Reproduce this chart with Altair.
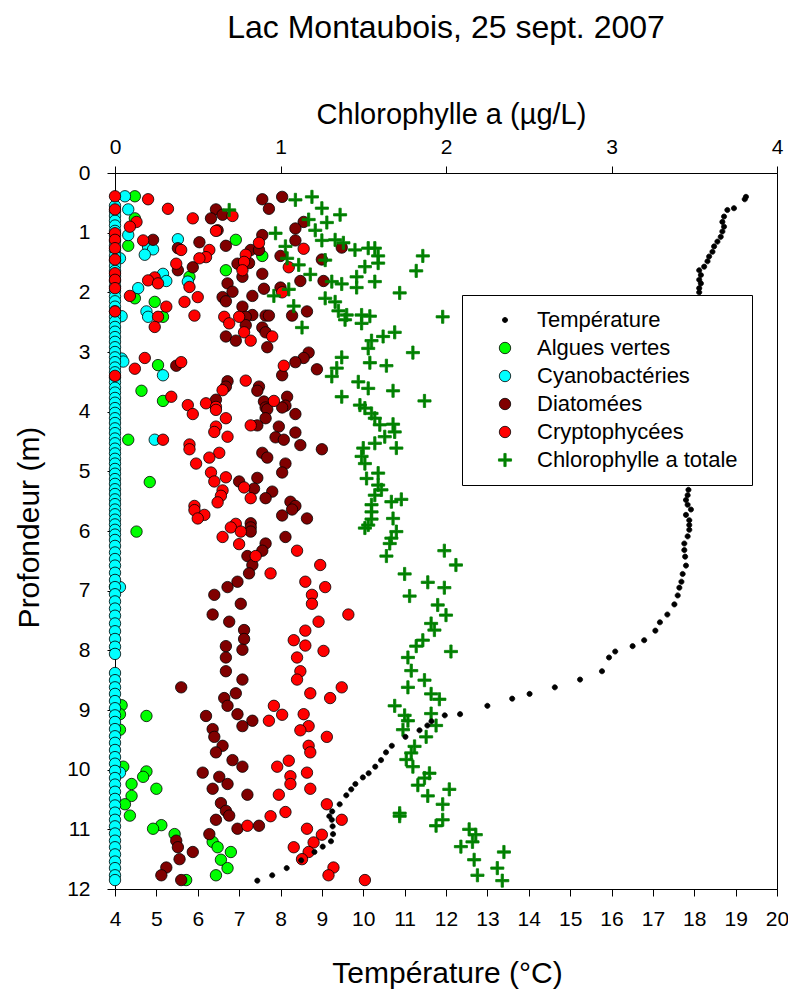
import altair as alt
import pandas as pd

# ---------------- data (depth m, value) ----------------
temp_pts = [
    (0.40, 19.25), (0.44, 19.22), (0.59, 18.96), (0.62, 18.80), (0.73, 18.72), (0.82, 18.68),
    (0.90, 18.72), (0.98, 18.68), (1.07, 18.64), (1.15, 18.56), (1.23, 18.48), (1.32, 18.44),
    (1.40, 18.36), (1.48, 18.32), (1.57, 18.24), (1.63, 18.12), (1.71, 18.16), (1.79, 18.12),
    (1.85, 18.16), (1.93, 18.12), (2.00, 18.12),
    (5.31, 17.86), (5.40, 17.84), (5.48, 17.80), (5.56, 17.84), (5.64, 17.92), (5.73, 17.80),
    (5.82, 17.88), (5.90, 17.88), (5.98, 17.88), (6.09, 17.84), (6.21, 17.76), (6.32, 17.76),
    (6.43, 17.78), (6.58, 17.80), (6.72, 17.72), (6.85, 17.69), (6.95, 17.64), (7.08, 17.60),
    (7.23, 17.52), (7.40, 17.35), (7.53, 17.17), (7.67, 17.06), (7.83, 16.79), (7.93, 16.51),
    (8.02, 16.09), (8.12, 15.94), (8.35, 15.77), (8.49, 15.24), (8.62, 14.63), (8.73, 14.02),
    (8.81, 13.60), (8.93, 13.00), (9.07, 12.34), (9.09, 11.97), (9.19, 11.65), (9.26, 11.55),
    (9.34, 11.36), (9.45, 11.02), (9.60, 10.69), (9.71, 10.55), (9.84, 10.43), (9.95, 10.29),
    (10.06, 10.13), (10.13, 9.99), (10.24, 9.81), (10.33, 9.71), (10.43, 9.59), (10.58, 9.43),
    (10.70, 9.25), (10.78, 9.18), (10.84, 9.24), (10.95, 9.26), (11.08, 9.27), (11.20, 9.22),
    (11.29, 9.02), (11.38, 8.82), (11.52, 8.50), (11.65, 8.15), (11.77, 7.80), (11.86, 7.44),
]

green_pts = [
    (0.39, 0.12), (0.76, 0.12), (1.12, 0.73), (1.22, 0.08), (1.39, 0.89), (1.63, 0.67),
    (1.74, 0.45), (2.10, 0.12), (2.16, 0.24), (2.41, 0.29), (3.22, 0.26), (3.65, 0.16),
    (3.82, 0.29), (4.47, 0.08), (5.18, 0.21), (6.01, 0.13), (6.93, 0.00), (8.92, 0.04),
    (9.07, 0.03), (9.10, 0.19), (9.33, 0.03), (9.95, 0.05), (10.03, 0.19), (10.12, 0.17),
    (10.24, 0.10), (10.32, 0.25), (10.44, 0.10), (10.58, 0.06), (10.77, 0.09), (10.93, 0.28),
    (10.99, 0.23), (11.08, 0.36), (11.21, 0.59), (11.30, 0.62), (11.38, 0.70), (11.51, 0.64),
    (11.65, 0.68), (11.77, 0.61), (11.85, 0.43),
]

cyan_pts = [
    (0.39, 0.06), (0.61, 0.08), (1.04, 0.08), (1.11, 0.38), (1.24, 0.20), (1.28, 0.23),
    (1.37, 0.18), (1.43, 0.03), (1.69, 0.29), (1.81, 0.31), (1.82, 0.44), (1.93, 0.14),
    (2.32, 0.19), (2.41, 0.20), (2.40, 0.04), (3.11, 0.04), (3.16, 0.05), (3.39, 0.29),
    (4.47, 0.24), (6.94, 0.03), (10.05, 0.03),
]
# cyanobacteria readings at 0 µg/L (the column along the left edge)
cyan_zero_depth = [
    0.55, 0.64, 0.72, 0.80, 0.88, 0.97, 1.05, 1.14, 1.22, 1.30, 1.39, 1.47, 1.56, 1.64, 1.73,
    1.81, 1.90, 1.98, 2.07, 2.15, 2.24, 2.32, 2.41, 2.49, 2.58, 2.66, 2.75, 2.83, 2.92, 3.00,
    3.09, 3.17, 3.26, 3.34, 3.43, 3.51, 3.60, 3.68, 3.77, 3.85, 3.94, 4.02, 4.11, 4.19, 4.28,
    4.36, 4.45, 4.53, 4.62, 4.70, 4.79, 4.87, 4.96, 5.04, 5.13, 5.21, 5.30, 5.38, 5.47, 5.55,
    5.64, 5.72, 5.81, 5.89, 5.98, 6.06, 6.15, 6.25, 6.36, 6.47, 6.58, 6.70, 6.82, 6.94, 7.06,
    7.18, 7.30, 7.42, 7.55, 7.68, 7.81, 7.94, 8.06, 8.38, 8.50, 8.62, 8.73, 8.85, 8.97, 9.09,
    9.20, 9.32, 9.44, 9.55, 9.67, 9.79, 9.90, 10.02, 10.14, 10.25, 10.37, 10.49, 10.60, 10.72,
    10.84, 10.95, 11.07, 11.19, 11.30, 11.42, 11.54, 11.65, 11.77, 11.85,
]

diatom_pts = [
    (0.40, 1.01), (0.44, 0.89), (0.60, 0.93), (0.61, 0.61), (0.70, 0.65), (0.76, 0.58),
    (0.82, 1.14), (0.93, 1.09), (0.96, 0.62), (1.04, 0.89), (1.12, 0.23), (1.13, 1.09),
    (1.16, 0.51), (1.22, 0.67), (1.25, 1.37), (1.26, 0.38), (1.29, 0.82), (1.29, 0.87),
    (1.39, 1.00), (1.45, 1.25), (1.51, 0.81), (1.52, 0.74), (1.58, 0.47), (1.63, 0.38),
    (1.69, 0.89), (1.74, 0.77), (1.81, 1.12), (1.81, 1.26), (1.85, 0.68), (1.92, 1.00),
    (1.94, 0.90), (1.99, 0.71), (2.06, 0.83), (2.08, 0.65), (2.15, 0.67), (2.24, 0.77),
    (2.32, 1.16), (2.38, 0.83), (2.39, 0.91), (2.39, 0.93), (2.39, 1.07), (2.41, 0.79),
    (2.55, 0.79), (2.59, 0.89), (2.67, 0.91), (2.74, 0.67), (2.81, 0.73), (2.92, 0.92),
    (3.01, 1.17), (3.10, 1.14), (3.17, 1.09), (3.23, 0.37), (3.29, 1.22), (3.39, 1.01),
    (3.49, 0.68), (3.58, 0.67), (3.58, 0.87), (3.65, 0.86), (3.75, 1.04), (3.80, 0.61),
    (3.83, 0.90), (3.90, 1.03), (3.93, 0.91), (3.93, 1.01), (3.96, 0.92), (4.04, 1.09),
    (4.11, 0.91), (4.23, 0.86), (4.25, 0.99), (4.35, 1.09), (4.43, 0.97), (4.47, 1.02),
    (4.56, 1.12), (4.63, 1.25), (4.69, 0.89), (4.77, 0.92), (4.87, 1.03), (5.02, 1.01),
    (5.11, 0.86), (5.17, 0.75), (5.29, 0.84), (5.34, 0.95), (5.45, 0.91), (5.51, 1.06),
    (5.58, 1.09), (5.64, 1.07), (5.74, 1.01), (5.79, 1.16), (5.87, 0.82), (5.94, 0.82),
    (6.01, 0.82), (6.10, 1.03), (6.21, 0.91), (6.33, 0.89), (6.42, 0.80), (6.57, 0.83),
    (6.71, 0.81), (6.85, 0.74), (6.94, 0.68), (7.07, 0.60), (7.22, 0.76), (7.40, 0.59),
    (7.52, 0.69), (7.66, 0.78), (7.81, 0.78), (7.93, 0.67), (7.99, 0.77), (8.12, 0.67),
    (8.35, 0.67), (8.49, 0.77), (8.62, 0.40), (8.72, 0.73), (8.80, 0.66), (8.93, 0.68),
    (9.07, 0.74), (9.10, 0.55), (9.18, 0.83), (9.27, 0.77), (9.32, 0.59), (9.45, 0.60),
    (9.60, 0.65), (9.71, 0.61), (9.84, 0.71), (9.95, 0.77), (10.05, 0.53), (10.12, 0.63),
    (10.24, 0.68), (10.32, 0.59), (10.42, 0.80), (10.56, 0.64), (10.69, 0.67), (10.77, 0.69),
    (10.84, 0.61), (10.94, 0.87), (10.99, 0.74), (11.08, 0.57), (11.19, 0.37), (11.30, 0.38),
    (11.38, 0.47), (11.50, 0.39), (11.64, 0.31), (11.77, 0.28), (11.85, 0.40),
]

crypto_pts = [
    (0.39, 0.00), (0.44, 0.20), (0.60, 0.32), (0.61, 0.00), (0.72, 0.71), (0.76, 0.47),
    (0.82, 0.13), (0.90, 0.09), (0.97, 0.61), (1.01, 0.00), (1.12, 0.00), (1.13, 0.17),
    (1.17, 0.87), (1.26, 0.00), (1.27, 1.14), (1.29, 0.40), (1.29, 0.57), (1.37, 0.79),
    (1.41, 0.55), (1.43, 0.51), (1.45, 0.00), (1.49, 0.78), (1.52, 0.37), (1.58, 1.05),
    (1.63, 0.77), (1.68, 0.00), (1.75, 0.24), (1.79, 0.00), (1.80, 0.20), (1.85, 0.26),
    (1.91, 0.45), (1.93, 0.00), (2.00, 1.01), (2.06, 0.09), (2.08, 0.50), (2.16, 0.42),
    (2.24, 0.31), (2.32, 0.00), (2.39, 0.48), (2.41, 0.26), (2.41, 0.66), (2.41, 0.75),
    (2.52, 0.69), (2.58, 0.24), (2.67, 0.78), (2.74, 0.95), (2.81, 0.82), (3.10, 0.18),
    (3.17, 0.40), (3.23, 1.02), (3.28, 0.12), (3.40, 0.00), (3.48, 0.79), (3.64, 0.65),
    (3.75, 0.34), (3.82, 0.96), (3.86, 0.55), (3.89, 0.44), (3.92, 0.61), (3.97, 0.61),
    (4.04, 0.47), (4.11, 0.67), (4.23, 0.82), (4.25, 0.61), (4.34, 0.60), (4.42, 0.68),
    (4.47, 0.29), (4.55, 0.45), (4.63, 0.45), (4.69, 0.63), (4.77, 0.57), (4.87, 0.49),
    (5.02, 0.58), (5.10, 0.67), (5.17, 0.60), (5.27, 0.78), (5.32, 0.65), (5.41, 0.64),
    (5.45, 0.82), (5.52, 0.62), (5.58, 0.48), (5.65, 0.48), (5.73, 0.54), (5.79, 0.50),
    (5.88, 0.73), (5.94, 0.70), (6.01, 0.76), (6.10, 0.65), (6.22, 0.75), (6.33, 1.10),
    (6.42, 0.85), (6.57, 1.24), (6.71, 0.94), (6.85, 1.15), (6.94, 1.27), (7.07, 1.19),
    (7.22, 1.19), (7.40, 1.41), (7.52, 1.23), (7.67, 1.15), (7.83, 1.08), (7.92, 1.15),
    (8.01, 1.26), (8.12, 1.10), (8.35, 1.12), (8.49, 1.10), (8.62, 1.37), (8.72, 1.18),
    (8.80, 1.30), (8.93, 0.96), (9.07, 1.14), (9.08, 1.01), (9.18, 0.93), (9.27, 1.17),
    (9.34, 1.12), (9.45, 1.28), (9.60, 1.17), (9.71, 1.18), (9.85, 1.05), (9.95, 0.98),
    (10.05, 1.16), (10.11, 1.06), (10.24, 1.06), (10.32, 1.18), (10.42, 0.99), (10.58, 1.28),
    (10.71, 1.03), (10.78, 0.94), (10.84, 1.37), (10.94, 0.80), (10.99, 1.16), (11.09, 1.25),
    (11.22, 1.20), (11.30, 1.08), (11.38, 1.17), (11.50, 1.13), (11.64, 1.32), (11.77, 1.29),
    (11.85, 1.51),
]

chl_pts = [
    (0.40, 1.19), (0.45, 1.09), (0.59, 1.25), (0.62, 0.69), (0.70, 1.36), (0.78, 1.17),
    (0.83, 1.28), (0.96, 1.21), (1.01, 0.97), (1.12, 1.33), (1.13, 1.25), (1.17, 1.38),
    (1.23, 1.03), (1.26, 1.53), (1.26, 1.57), (1.29, 1.45), (1.39, 1.59), (1.39, 1.86),
    (1.43, 1.04), (1.46, 1.27), (1.51, 1.59), (1.54, 1.11), (1.57, 1.51), (1.64, 1.82),
    (1.70, 1.18), (1.74, 1.46), (1.82, 1.31), (1.82, 1.57), (1.86, 1.37), (1.92, 1.46),
    (1.95, 1.05), (2.01, 1.72), (2.06, 0.96), (2.10, 1.27), (2.16, 1.33), (2.23, 1.08),
    (2.31, 1.35), (2.38, 1.40), (2.38, 1.49), (2.40, 1.54), (2.41, 1.98), (2.46, 1.39),
    (2.52, 1.49), (2.59, 1.13), (2.67, 1.69), (2.74, 1.62), (2.81, 1.55), (2.94, 1.53),
    (3.01, 1.80), (3.09, 1.37), (3.18, 1.54), (3.23, 1.64), (3.27, 1.34), (3.41, 1.31),
    (3.50, 1.47), (3.61, 1.53), (3.65, 1.68), (3.75, 1.37), (3.82, 1.87), (3.89, 1.48),
    (3.94, 1.51), (4.03, 1.55), (4.11, 1.57), (4.21, 1.68), (4.22, 1.60), (4.34, 1.69),
    (4.42, 1.63), (4.53, 1.57), (4.61, 1.70), (4.61, 1.50), (4.75, 1.49), (4.87, 1.51),
    (5.03, 1.59), (5.12, 1.52), (5.23, 1.59), (5.31, 1.61), (5.40, 1.57), (5.47, 1.73),
    (5.51, 1.67), (5.56, 1.55), (5.68, 1.55), (5.79, 1.68), (5.80, 1.55), (5.90, 1.53),
    (5.95, 1.51), (6.01, 1.70), (6.12, 1.67), (6.21, 1.66), (6.33, 1.99), (6.42, 1.64),
    (6.57, 2.06), (6.72, 1.75), (6.86, 1.89), (6.95, 1.99), (7.09, 1.78), (7.24, 1.95),
    (7.41, 2.00), (7.55, 1.91), (7.66, 1.93), (7.83, 1.86), (7.93, 1.82), (8.02, 2.03),
    (8.12, 1.77), (8.34, 1.79), (8.50, 1.87), (8.62, 1.77), (8.73, 1.91), (8.82, 1.96),
    (8.93, 1.69), (9.06, 1.91), (9.09, 1.75), (9.18, 1.77), (9.26, 1.94), (9.33, 1.74),
    (9.45, 1.88), (9.61, 1.81), (9.72, 1.79), (9.83, 1.76), (9.95, 1.80), (10.06, 1.90),
    (10.14, 1.87), (10.26, 1.83), (10.33, 2.02), (10.44, 1.89), (10.58, 1.98), (10.73, 1.72),
    (10.78, 1.72), (10.84, 1.98), (10.94, 1.94), (11.00, 2.14), (11.09, 2.18), (11.21, 2.16),
    (11.29, 2.09), (11.38, 2.35), (11.51, 2.17), (11.65, 2.31), (11.77, 2.19), (11.86, 2.34),
]

SERIES = ["Température", "Algues vertes", "Cyanobactéries", "Diatomées",
          "Cryptophycées", "Chlorophylle a totale"]
FILLS = ["#000000", "#00ff00", "#00ffff", "#800000", "#ff0000", "#008000"]
STROKES = ["#000000", "#000000", "#000000", "#000000", "#000000", "#008000"]
DOT = "M0.45,0A0.45,0.45,0,1,1,-0.45,0A0.45,0.45,0,1,1,0.45,0Z"
PLUS = ("M-0.2,-1.15H0.2V-0.2H1.15V0.2H0.2V1.15H-0.2V0.2H-1.15V-0.2H-0.2Z")
SHAPES = [DOT, "circle", "circle", "circle", "circle", PLUS]

# ---------------- tables ----------------
temp_df = pd.DataFrame(temp_pts, columns=["depth", "value"])
temp_df["series"] = SERIES[0]

rows = []
for d, v in green_pts:
    rows.append((d, v, SERIES[1]))
for d, v in cyan_pts:
    rows.append((d, v, SERIES[2]))
for d in cyan_zero_depth:
    rows.append((d, 0.0, SERIES[2]))
for d, v in diatom_pts:
    rows.append((d, v, SERIES[3]))
for d, v in crypto_pts:
    rows.append((d, v, SERIES[4]))
for d, v in chl_pts:
    rows.append((d, v, SERIES[5]))
chl_df = pd.DataFrame(rows, columns=["depth", "value", "series"])

FONT = "Liberation Sans"

legend = alt.Legend(
    orient="none", legendX=347, legendY=122, title=None,
    strokeColor="black", fillColor="white", padding=14, cornerRadius=0,
    labelFont=FONT, labelFontSize=22, labelColor="black", labelLimit=0,
    symbolSize=130, symbolStrokeWidth=0.8, symbolOffset=18, labelOffset=21,
    rowPadding=6,
)
fill = alt.Fill("series:N", scale=alt.Scale(domain=SERIES, range=FILLS), legend=legend)
stroke = alt.Stroke("series:N", scale=alt.Scale(domain=SERIES, range=STROKES), legend=legend)
shape = alt.Shape("series:N", scale=alt.Scale(domain=SERIES, range=SHAPES), legend=legend)

y_enc = alt.Y(
    "depth:Q",
    scale=alt.Scale(domain=[0, 12], reverse=True, nice=False, zero=False),
    axis=alt.Axis(
        values=list(range(0, 13)), title="Profondeur (m)", titleFontSize=30,
        titleX=-77, titleY=354, titleAngle=270, titleAlign="center",
        titleBaseline="alphabetic", tickSize=8, labelPadding=17,
        labelFlush=False, labelOverlap=False,
    ),
)

temp_layer = alt.Chart(temp_df).mark_point(
    filled=True, size=130, strokeWidth=0.8, opacity=1
).encode(
    x=alt.X(
        "value:Q",
        scale=alt.Scale(domain=[4, 20], nice=False, zero=False),
        axis=alt.Axis(
            orient="bottom", values=list(range(4, 21)), title="Température (°C)",
            titleFontSize=30, titleX=332, titleY=93, titleAlign="center",
            titleBaseline="alphabetic", tickSize=7, labelPadding=12,
            labelFlush=False, labelOverlap=False,
        ),
    ),
    y=y_enc, fill=fill, stroke=stroke, shape=shape,
)

chl_layer = alt.Chart(chl_df).mark_point(
    filled=True, size=130, strokeWidth=0.8, opacity=1
).encode(
    x=alt.X(
        "value:Q",
        scale=alt.Scale(domain=[0, 4], nice=False, zero=False),
        axis=alt.Axis(
            orient="top", values=[0, 1, 2, 3, 4], title="Chlorophylle a (µg/L)",
            titleFontSize=29, titleX=336, titleY=-50, titleAlign="center",
            titleBaseline="alphabetic", tickSize=7, labelPadding=9,
            labelFlush=False, labelOverlap=False,
        ),
    ),
    y=y_enc, fill=fill, stroke=stroke, shape=shape,
)

chart = alt.layer(chl_layer, temp_layer).resolve_scale(x="independent").properties(
    width=662, height=716,
    title=alt.Title("Lac Montaubois, 25 sept. 2007", fontSize=32, fontWeight="normal",
                    anchor="middle", offset=55, color="black", font=FONT),
    padding={"left": 107, "top": 165, "right": 11, "bottom": 102},
    autosize=alt.AutoSizeParams(type="none"),
).configure(font=FONT).configure_view(
    stroke="black", strokeWidth=1
).configure_axis(
    grid=False, labelFont=FONT, titleFont=FONT, labelFontSize=21, labelColor="black",
    titleColor="black", titleFontWeight="normal", domainColor="black",
    tickColor="black", domainWidth=1, tickWidth=1,
)

chart.save("out.html", embed_options={"renderer": "svg", "actions": False})
